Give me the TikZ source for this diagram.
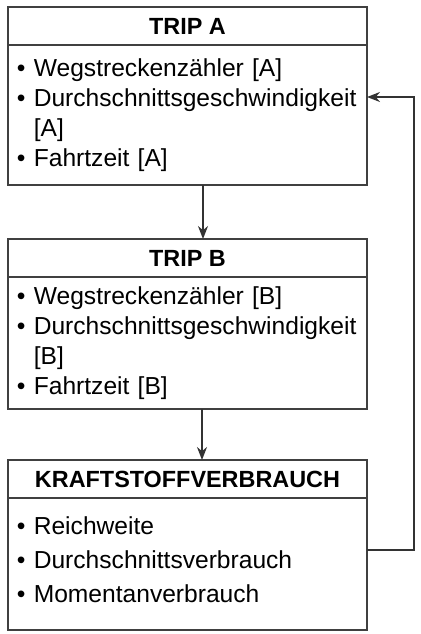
\documentclass[tikz,border=0pt]{standalone}
\usepackage{fontspec}
\setmainfont{Liberation Sans}
\usetikzlibrary{positioning,arrows.meta}
\tikzset{
  head/.style={draw=black!75, line width=0.9pt, outer sep=0pt, minimum width=179.5pt, minimum height=19pt, inner sep=0pt, font=\fontsize{11.7}{14}\selectfont\bfseries},
  body/.style={draw=black!75, line width=0.9pt, outer sep=0pt, text width=170.5pt, inner xsep=4.5pt, inner ysep=0pt, align=left, font=\fontsize{12.3}{15}\selectfont},
  flow/.style={draw=black!80, line width=0.8pt, -{Stealth[length=6.5pt,width=5pt]}}
}
\newcommand{\bul}{\textbullet\ }
\newcommand{\ind}{\phantom{\textbullet\ }}

\begin{document}
\begin{tikzpicture}
    \useasboundingbox (-4pt,3.5pt) rectangle (206pt,-313.5pt);
    % trip A
    \node[head, anchor=north west] (aHead) at (0,0) {TRIP A};
    \node[body, minimum height=70pt, below=0pt of aHead] (aBody) {\bul Wegstreckenzähler [A]\\ \mbox{\bul Durchschnittsgeschwindigkeit}\\ \ind[A]\\ \bul Fahrtzeit [A]\\[-13pt]\mbox{}};
    % trip B
    \node[head, below=27pt of aBody] (bHead) {TRIP B};
    \node[body, minimum height=66pt, below=0pt of bHead] (bBody) {\bul Wegstreckenzähler [B]\\ \mbox{\bul Durchschnittsgeschwindigkeit}\\ \ind[B]\\ \bul Fahrtzeit [B]};
    % kraftstoff
    \node[head, below=25.5pt of bBody] (cHead) {KRAFTSTOFFVERBRAUCH};
    \node[body, minimum height=66pt, below=0pt of cHead, font=\fontsize{12.3}{17}\selectfont] (cBody) {\bul Reichweite\\ \bul Durchschnittsverbrauch\\ \bul Momentanverbrauch\\[-13pt]\mbox{}};
    \draw[flow] ([xshift=7.75pt]aBody.south) -- ([xshift=7.75pt]bHead.north);
    \draw[flow] ([xshift=7.25pt]bBody.south) -- ([xshift=7.25pt]cHead.north);
    \draw[flow] ([yshift=7pt]cBody.east) -- ++(23.5pt,0) |- ([yshift=9pt]aBody.east);
\end{tikzpicture}
\end{document}
